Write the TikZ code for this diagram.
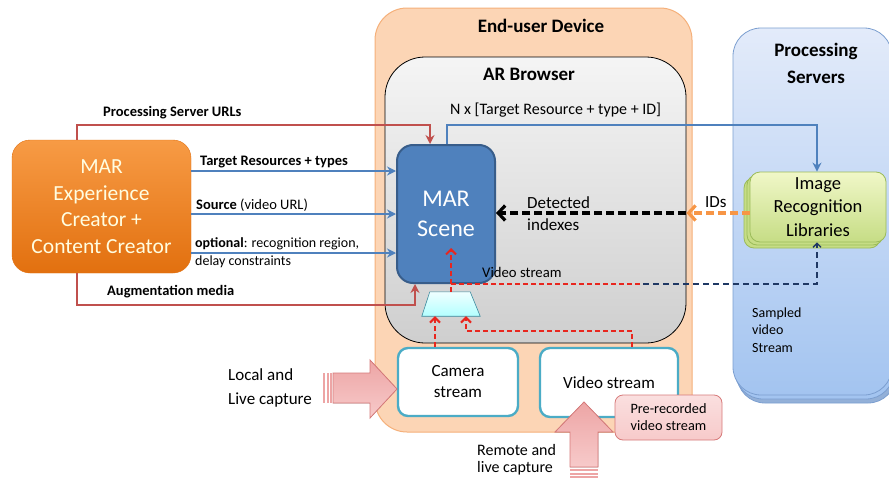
\documentclass[tikz,border=0pt]{standalone}
\usepackage{fontspec}
\setmainfont{Carlito}
\usetikzlibrary{positioning, shapes.geometric, arrows.meta, shadows}

\definecolor{devfill}{HTML}{FCD5B5}
\definecolor{devline}{HTML}{F5B07A}
\definecolor{srvtop}{HTML}{E3EBFA}
\definecolor{srvbot}{HTML}{A3C4F0}
\definecolor{srvline}{HTML}{7C9FD0}
\definecolor{mortop}{HTML}{F79B45}
\definecolor{morbot}{HTML}{E2700F}
\definecolor{scenefill}{HTML}{4F81BD}
\definecolor{sceneline}{HTML}{385D8A}
\definecolor{libtop}{HTML}{F0F7C8}
\definecolor{libbot}{HTML}{C6DD85}
\definecolor{libline}{HTML}{9BBB59}
\definecolor{streamline}{HTML}{4BACC6}
\definecolor{pinktop}{HTML}{F7CACA}
\definecolor{pinkbot}{HTML}{EDA5A5}
\definecolor{pinkline}{HTML}{D77A7A}
\definecolor{linkred}{HTML}{C0504D}
\definecolor{linkblue}{HTML}{4F81BD}
\definecolor{vidred}{HTML}{E8261E}
\definecolor{idorange}{HTML}{F79646}
\definecolor{navy}{HTML}{1F3864}

\newcommand{\fsz}[2]{\fontsize{#1pt}{#2pt}\selectfont}

\begin{document}
\begin{tikzpicture}[x=1pt, y=-1pt,
    panel/.style={rectangle, rounded corners=#1, inner sep=0pt},
    panel/.default=30pt,
    title/.style={font=\fsz{19}{27}\bfseries, align=center},
    tag/.style={anchor=west, inner sep=0pt, font=\fsz{14.5}{18}, align=left},
    boldtag/.style={tag, font=\fsz{14.5}{18}\bfseries},
    link/.style={line width=2.6pt, -{Stealth[length=9pt, width=9pt]}},
    feed/.style={vidred, line width=2pt, dash pattern=on 5pt off 3pt, -{Straight Barb[length=5pt, width=10pt]}},
    result/.style={line width=3.2pt, dash pattern=on 8pt off 4pt, -{Straight Barb[length=7pt, width=15pt]}},
    stream/.style={panel=10pt, draw=streamline, line width=2.4pt, fill=white, font=\fsz{17}{21}, align=center},
    bigarrow/.style={draw=pinkline, line width=0.8pt, top color=pinkbot, bottom color=pinktop}
]
\useasboundingbox (0,0) rectangle (889,479);
\fill[white] (0,0) rectangle (889,479);

% End-user device and AR browser
\node[panel=32pt, draw=devline, line width=1pt, fill=devfill, minimum width=317pt, minimum height=424pt] (device) at (533.5,220) {};
\node[title] (devtitle) at (541,26) {End-user Device};
\node[panel=40pt, draw=black, line width=0.8pt, top color=gray!8, bottom color=gray!38, minimum width=301pt, minimum height=286pt] (browser) at (535.5,200) {};
\node[title] (brtitle) at (529,74) {AR Browser};

% Processing servers
\node[panel=28pt, draw=srvline, line width=0.8pt, top color=srvtop, bottom color=srvbot, minimum width=159pt, minimum height=367pt,
      copy shadow={shadow xshift=4pt, shadow yshift=-8pt, draw=srvline, fill=srvbot!90!black},
      copy shadow={shadow xshift=2pt, shadow yshift=-4pt, draw=srvline, fill=srvbot}] (servers) at (812.5,211.5) {};
\node[title] (srvtitle) at (816,63) {Processing\\Servers};

% Creator and scene
\node[panel=18pt, top color=mortop, bottom color=morbot, draw=morbot, minimum width=179pt, minimum height=133pt,
      text=white!88!yellow, font=\fsz{21.5}{26.5}, align=center] (creator) at (101.5,206.5) {MAR\\Experience\\Creator +\\Content Creator};
\node[panel=16pt, fill=scenefill, draw=sceneline, line width=2pt, minimum width=98pt, minimum height=138pt,
      text=white, font=\fsz{24}{30}, align=center] (scene) at (446,214) {MAR\\Scene};

% Recognition libraries
\node[panel=10pt, top color=libtop, bottom color=libbot, draw=libline, line width=0.8pt, minimum width=136pt, minimum height=70pt,
      font=\fsz{18.5}{23.5}, align=center,
      copy shadow={shadow xshift=-6pt, shadow yshift=-6pt, draw=libline, fill=libbot},
      copy shadow={shadow xshift=-3pt, shadow yshift=-3pt, draw=libline, fill=libbot}] (imgrec) at (818,207) {Image\\Recognition\\Libraries};

% Stream sources
\node[rectangle, inner sep=0pt, minimum width=58pt, minimum height=24pt] (mixer) at (451,304) {};
\draw[draw=streamline!80!black, line width=0.6pt, top color=cyan!6, bottom color=cyan!30]
    ([xshift=8pt]mixer.north west) -- ([xshift=-10pt]mixer.north east) -- (mixer.south east) -- (mixer.south west) -- cycle;
\node[stream, minimum width=120pt, minimum height=68pt] (cam) at (458,382) {Camera\\stream};
\node[stream, minimum width=138pt, minimum height=69pt] (vid) at (609,382.5) {Video stream};

% Capture arrows
\fill[bigarrow] (333,373) -- (370,373) -- (370,360) -- (397,389) -- (370,418) -- (370,403) -- (333,403) -- cycle;
\foreach \x in {323,326.5,330} \fill[pinkbot] (\x,373) rectangle ++(2,30);
\fill[bigarrow] (570,467) -- (570,432) -- (555,432) -- (584,402) -- (613,432) -- (598,432) -- (598,467) -- cycle;
\foreach \y in {469,472.5,476} \fill[pinkbot] (570,\y) rectangle ++(28,2);

\node[panel=8pt, draw=pinkline, line width=0.8pt, top color=pinktop!60!white, bottom color=pinktop, minimum width=107pt, minimum height=45pt,
      font=\fsz{14.3}{17}, align=center] (prerec) at (668.5,417.5) {Pre-recorded\\video stream};

% Links from the creator
\draw[link, linkred] (creator.north -| 77,0) |- (430,125) -- (scene.north -| 430,0);
\draw[link, linkblue] (creator.east |- 0,171) -- (scene.west |- 0,171);
\draw[link, linkblue] (creator.east |- 0,214) -- (scene.west |- 0,214);
\draw[link, linkblue] (creator.east |- 0,253) -- (scene.west |- 0,253);
\draw[link, linkred] (creator.south -| 77,0) |- (415,305) -- (scene.south -| 415,0);
\draw[link, linkblue] (scene.north -| 447,0) |- (817,125) -- (imgrec.north -| 817,0);

% Video feeds
\coordinate (scenein) at (451,248);
\draw[feed] (mixer.north -| 451,0) -- (scenein);
\draw[feed] (cam.north -| 435,0) -- (mixer.south -| 435,0);
\draw[feed] (vid.north -| 632,0) |- (466,331) -- (mixer.south -| 466,0);
\draw[vidred, line width=2pt, dash pattern=on 5pt off 3pt] (451,284) -- (643,284) coordinate (split);
\draw[navy, line width=1.3pt, dash pattern=on 6pt off 4pt, -{Straight Barb[length=4pt, width=8pt]}] (split) -| (imgrec.south -| 817,0);

% Recognition results
\draw[result, idorange] (imgrec.west |- 0,213) -- (browser.east |- 0,213);
\draw[result, black] (browser.east |- 0,213) -- (scene.east |- 0,213);

% Labels
\node[boldtag] (urltag) at (103,113) {Processing Server URLs};
\node[boldtag] (targettag) at (200,162) {Target Resources + types};
\node[tag] (sourcetag) at (196,205) {\textbf{Source} (video URL)};
\node[tag, font=\fsz{14}{18}] (opttag) at (195,253) {\textbf{optional}: recognition region,\\delay constraints};
\node[boldtag] (augtag) at (107,292) {Augmentation media};
\node[tag, font=\fsz{16}{19}] (ntag) at (450,110) {N x [Target Resource + type + ID]};
\node[tag, font=\fsz{17}{22}] (dettag) at (527,214) {Detected\\indexes};
\node[tag, font=\fsz{17}{20}] (idtag) at (705,202) {IDs};
\node[tag, font=\fsz{14.7}{18}] (vidtag) at (482,272) {Video stream};
\node[tag, font=\fsz{14}{17.5}] (sampletag) at (752,330) {Sampled\\video\\Stream};
\node[tag, font=\fsz{17}{24}] (localtag) at (228,388) {Local and\\Live capture};
\node[tag, font=\fsz{16}{17}] (remotetag) at (477,460) {Remote and\\live capture};

\end{tikzpicture}
\end{document}
